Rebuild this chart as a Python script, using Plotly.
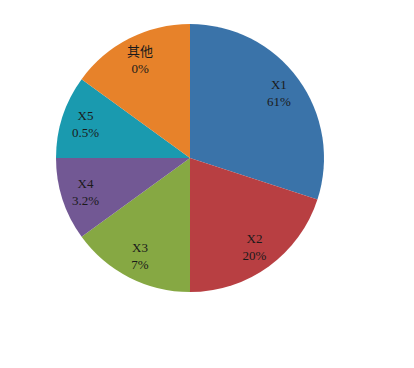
import plotly.graph_objects as go

labels = ["X1", "X2", "X3", "X4", "X5", "其他"]
values = [30, 20, 15, 10, 10, 15]
pct_text = ["61%", "20%", "7%", "3.2%", "0.5%", "0%"]
colors = ["#3A73A9", "#B83F42", "#86A843", "#725894", "#1A9AAF", "#E7822A"]

text = [f"{l}<br>{p}" for l, p in zip(labels, pct_text)]
dom = dict(x=[0.1353, 0.7826], y=[0.2065, 0.9348])

fig = go.Figure()
fig.add_trace(go.Pie(
    labels=labels,
    values=values,
    textinfo="none",
    sort=False,
    direction="clockwise",
    rotation=0,
    marker=dict(colors=colors, line=dict(width=0)),
    hoverinfo="label",
    domain=dom,
))
fig.add_trace(go.Pie(
    labels=labels,
    values=values,
    text=text,
    textinfo="text",
    textposition="inside",
    insidetextorientation="horizontal",
    sort=False,
    direction="clockwise",
    rotation=0,
    hole=0.64,
    marker=dict(colors=["rgba(0,0,0,0)"] * len(labels), line=dict(width=0)),
    textfont=dict(family="Liberation Serif, Noto Sans CJK SC", size=13, color="#1a1a1a"),
    hoverinfo="skip",
    domain=dom,
))

fig.update_layout(
    width=414, height=368,
    margin=dict(l=0, r=0, t=0, b=0),
    showlegend=False,
    paper_bgcolor="white",
    uniformtext=dict(minsize=13, mode="show"),
)

fig.write_html("out.html")
